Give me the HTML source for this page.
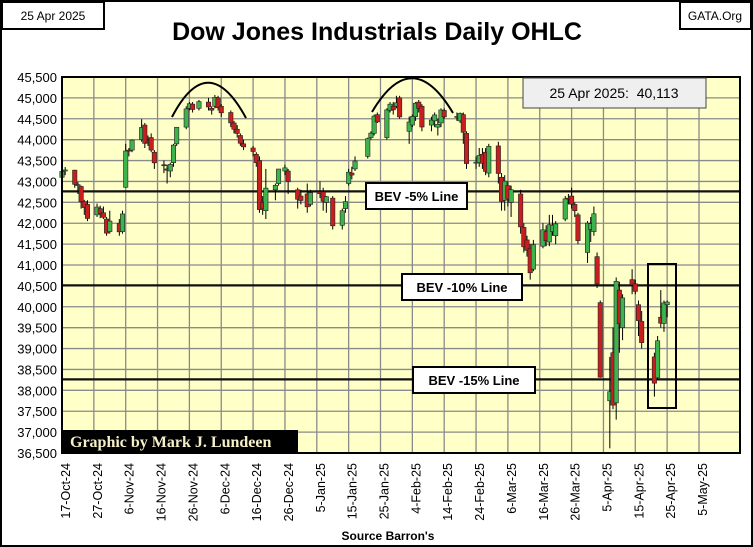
<!DOCTYPE html>
<html><head><meta charset="utf-8">
<style>
body{margin:0;background:#fff;}
svg{display:block;font-family:"Liberation Sans",sans-serif;}
</style></head>
<body>
<svg id="chart" width="753" height="547" viewBox="0 0 753 547">
<rect x="1" y="1" width="751" height="545" fill="#fff" stroke="#000" stroke-width="2"/>
<g><rect x="2" y="2" width="102" height="27" fill="#fff" stroke="#000" stroke-width="2"/><text x="53" y="20" font-size="12" text-anchor="middle">25 Apr 2025</text></g>
<g><rect x="680" y="2" width="71" height="27" fill="#fff" stroke="#000" stroke-width="2"/><text x="715" y="20" font-size="12" text-anchor="middle">GATA.Org</text></g>
<text x="377" y="40" font-size="25" font-weight="bold" text-anchor="middle">Dow Jones Industrials Daily OHLC</text>
<rect x="62" y="77" width="678" height="376" fill="#ffffc8"/>
<g id="grid"></g>
<g id="bev"></g>
<g id="candles"></g>
<g id="axes"></g>
<rect x="62" y="77" width="678" height="376" fill="none" stroke="#000" stroke-width="2"/>
<path d="M172,117 Q208,48 246,118" fill="none" stroke="#000" stroke-width="2"/>
<path d="M372,112 Q412,44 453,113" fill="none" stroke="#000" stroke-width="2"/>
<g><rect x="523" y="78" width="183" height="30" fill="#efefef" stroke="#444" stroke-width="1"/><text x="614" y="98" font-size="14" text-anchor="middle" xml:space="preserve">25 Apr 2025:  40,113</text></g>
<rect x="648" y="264" width="28" height="144" fill="none" stroke="#000" stroke-width="2"/>
<g><rect x="62" y="430" width="236" height="22" fill="#000"/><text x="70" y="447" font-size="16" font-weight="bold" fill="#f5f0c8" font-family="Liberation Serif,serif">Graphic by Mark J. Lundeen</text></g>
<text x="388" y="540" font-size="12" font-weight="bold" text-anchor="middle">Source Barron's</text>
</svg>
<script>
const dates=["2024-10-17","2024-10-18","2024-10-21","2024-10-22","2024-10-23","2024-10-24","2024-10-25","2024-10-28","2024-10-29","2024-10-30","2024-10-31","2024-11-01","2024-11-04","2024-11-05","2024-11-06","2024-11-07","2024-11-08","2024-11-11","2024-11-12","2024-11-13","2024-11-14","2024-11-15","2024-11-18","2024-11-19","2024-11-20","2024-11-21","2024-11-22","2024-11-25","2024-11-26","2024-11-27","2024-11-29","2024-12-02","2024-12-03","2024-12-04","2024-12-05","2024-12-06","2024-12-09","2024-12-10","2024-12-11","2024-12-12","2024-12-13","2024-12-16","2024-12-17","2024-12-18","2024-12-19","2024-12-20","2024-12-23","2024-12-24","2024-12-26","2024-12-27","2024-12-30","2024-12-31","2025-01-02","2025-01-03","2025-01-06","2025-01-07","2025-01-08","2025-01-10","2025-01-13","2025-01-14","2025-01-15","2025-01-16","2025-01-17","2025-01-21","2025-01-22","2025-01-23","2025-01-24","2025-01-27","2025-01-28","2025-01-29","2025-01-30","2025-01-31","2025-02-03","2025-02-04","2025-02-05","2025-02-06","2025-02-07","2025-02-10","2025-02-11","2025-02-12","2025-02-13","2025-02-14","2025-02-18","2025-02-19","2025-02-20","2025-02-21","2025-02-24","2025-02-25","2025-02-26","2025-02-27","2025-02-28","2025-03-03","2025-03-04","2025-03-05","2025-03-06","2025-03-07","2025-03-10","2025-03-11","2025-03-12","2025-03-13","2025-03-14","2025-03-17","2025-03-18","2025-03-19","2025-03-20","2025-03-21","2025-03-24","2025-03-25","2025-03-26","2025-03-27","2025-03-28","2025-03-31","2025-04-01","2025-04-02","2025-04-03","2025-04-04","2025-04-07","2025-04-08","2025-04-09","2025-04-10","2025-04-11","2025-04-14","2025-04-15","2025-04-16","2025-04-17","2025-04-21","2025-04-22","2025-04-23","2025-04-24","2025-04-25"];
const opens=[43100,43250,43270,42900,42880,42520,42450,42200,42350,42250,42100,41800,42000,41800,42860,43750,43750,44000,44350,43950,44050,43700,43400,43300,43250,43450,43900,44300,44750,44850,44750,44900,44750,44800,45000,44800,44650,44400,44250,44100,43900,43800,43650,43500,42500,42300,42800,42950,43250,43250,42800,42650,42700,42450,42750,42750,42500,42600,41950,42350,42950,43200,43300,43600,44050,44150,44600,44050,44700,44800,44800,45000,44200,44350,44550,44900,44800,44350,44450,44300,44400,44700,44550,44450,44600,44150,43450,43450,43650,43700,43200,43850,43100,42550,42900,42500,42700,41900,41600,41400,40900,41450,41800,41550,41800,41700,42100,42600,42650,42450,42200,41300,41850,41800,41200,40100,37750,38900,37700,40400,39500,40650,40550,40050,39650,38800,38300,39750,39600,40050];
const highs=[43325,43345,43280,42990,42900,42560,42550,42470,42420,42400,42150,42300,42100,42300,43900,43800,44000,44490,44400,44100,44150,43750,43500,43400,43450,43900,44300,44800,44900,44900,44950,45000,44800,45070,45050,44850,44700,44450,44350,44150,44000,43850,43700,43600,42650,43300,42950,43300,43400,43300,42850,42800,42950,42800,43000,42850,42650,42650,42350,42650,43300,43350,43600,44050,44200,44600,44650,44750,44900,44900,45050,45050,44550,44600,44900,44950,44850,44550,44650,44500,44750,44750,44650,44650,44650,44200,43600,43800,43800,43800,43900,43950,43200,43150,43000,42900,42800,42000,41700,41500,41600,42000,41950,42200,42200,42050,42650,42700,42850,42500,42250,42050,42150,42400,41300,40150,38800,39500,40700,40600,40300,40900,40650,40150,39900,38900,39300,40400,40150,40150];
const lows=[43050,43150,42850,42700,42350,42200,42050,42150,42120,42100,41700,41750,41700,41750,42850,43600,43700,43950,43800,43850,43700,43300,43200,42950,43100,43350,43850,44250,44700,44650,44700,44700,44600,44750,44700,44550,44300,44150,44050,43850,43750,43600,43350,42250,42200,42100,42550,42900,43150,42700,42350,42450,42250,42400,42600,42300,42250,41850,41850,42250,42900,43050,43250,43550,44000,44100,44400,44000,44650,44600,44750,44500,43900,44300,44450,44650,44200,44200,44300,44100,44300,44500,44450,44400,43900,43300,43300,43350,43300,43150,43100,42950,42300,42300,42400,42150,41750,41300,41200,40650,40850,41400,41450,41450,41700,41500,42050,42450,42350,42150,41500,41050,41550,41700,40450,38300,36612,37550,37300,38900,39200,40300,40300,39300,39000,37850,38250,39500,39400,39750];
const closes=[43239,43275,42931,42924,42514,42374,42114,42387,42233,42141,41763,42052,41794,42222,43729,43729,43989,44293,43911,43958,43751,43445,43390,43269,43408,43870,44297,44737,44860,44722,44911,44782,44705,45014,44766,44643,44401,44248,44149,43914,43828,43717,43450,42327,42342,42840,42907,43297,43325,42992,42573,42544,42392,42732,42707,42528,42635,41938,42297,42518,43221,43153,43488,44025,44157,44565,44424,44714,44850,44714,44882,44545,44422,44556,44873,44748,44303,44470,44593,44368,44711,44546,44556,44628,44177,43428,43461,43621,43434,43240,43841,43191,42521,43007,42579,42802,41912,41434,41350,40814,41488,41841,41582,41965,41953,41985,42583,42588,42455,42300,41584,42002,41990,42226,40546,38315,37966,37646,40609,39594,40213,40525,40369,39669,39142,38171,39187,39607,40093,40113];
const yTicks=[36500,37000,37500,38000,38500,39000,39500,40000,40500,41000,41500,42000,42500,43000,43500,44000,44500,45000,45500];
const xTickLabels=["17-Oct-24","27-Oct-24","6-Nov-24","16-Nov-24","26-Nov-24","6-Dec-24","16-Dec-24","26-Dec-24","5-Jan-25","15-Jan-25","25-Jan-25","4-Feb-25","14-Feb-25","24-Feb-25","6-Mar-25","16-Mar-25","26-Mar-25","5-Apr-25","15-Apr-25","25-Apr-25","5-May-25"];
const bevLabels=["BEV -5% Line","BEV -10% Line","BEV -15% Line"];
const bevValues=[42763,40513,38262];

const NS="http://www.w3.org/2000/svg";
const X0=62,Y0=77,PW=678,PH=376,VMIN=36500,VMAX=45500,DAYPX=3.185;
const base=Date.UTC(2024,9,17);
function dayOf(s){const p=s.split("-");return (Date.UTC(+p[0],+p[1]-1,+p[2])-base)/86400000;}
function xs(d){return X0+d*DAYPX;}
function ys(v){return Y0+(VMAX-v)/(VMAX-VMIN)*PH;}
function mk(tag,attrs,parent){const e=document.createElementNS(NS,tag);for(const k in attrs)e.setAttribute(k,attrs[k]);parent.appendChild(e);return e;}
const grid=document.getElementById("grid"),axes=document.getElementById("axes"),cg=document.getElementById("candles"),bg=document.getElementById("bev");
yTicks.forEach(v=>{
  const y=ys(v);
  const l=mk("line",{x1:X0,x2:X0+PW,y1:y,y2:y,stroke:"#8a8a8a","stroke-width":1.3},grid);
  
  
  const t=mk("text",{x:57,y:y+5,"font-size":13,"text-anchor":"end"},axes);
  t.textContent=v.toLocaleString("en-US");
  
  
});
xTickLabels.forEach((s,i)=>{
  const gx=xs(i*10);
  if(i>0){const l=mk("line",{x1:gx,x2:gx,y1:Y0,y2:Y0+PH,stroke:"#8a8a8a","stroke-width":1.3},grid);
  
  }
  const lx=gx+8;
  const t=mk("text",{x:0,y:0,"font-size":12.5,"text-anchor":"end",transform:"translate("+lx+",463) rotate(-90)"},axes);
  t.textContent=s;
  
  
});
const bevBoxes=[[366,183,101],[402,274,120],[413,367,122]];
bevValues.forEach((v,i)=>{
  const y=ys(v);
  const l=mk("line",{x1:X0,x2:X0+PW,y1:y,y2:y,stroke:"#111","stroke-width":2.2},bg);
  
  
});
dates.forEach((d,i)=>{
  const x=xs(dayOf(d));
  const o=opens[i],h=highs[i],l=lows[i],c=closes[i];
  const up=c>=o;
  const w=mk("line",{x1:x,x2:x,y1:ys(h),y2:ys(l),stroke:"#000","stroke-width":1},cg);
  
  
  const top=ys(Math.max(o,c)),bot=ys(Math.min(o,c));
  const r=mk("rect",{x:x-2.2,y:top,width:4.4,height:Math.max(1,bot-top),fill:up?"#3cb44b":"#c81e1e",stroke:"#222","stroke-width":0.6},cg);
  
  
});
const svg=document.getElementById("chart");
bevLabels.forEach((s,i)=>{
  const b=bevBoxes[i];
  const g=mk("g",{},svg);
  
  
  mk("rect",{x:b[0],y:b[1],width:b[2],height:26,fill:"#fff",stroke:"#000","stroke-width":2},g);
  const t=mk("text",{x:b[0]+b[2]/2,y:b[1]+18,"font-size":13,"font-weight":"bold","text-anchor":"middle"},g);
  t.textContent=s;
});
</script>
</body></html>
